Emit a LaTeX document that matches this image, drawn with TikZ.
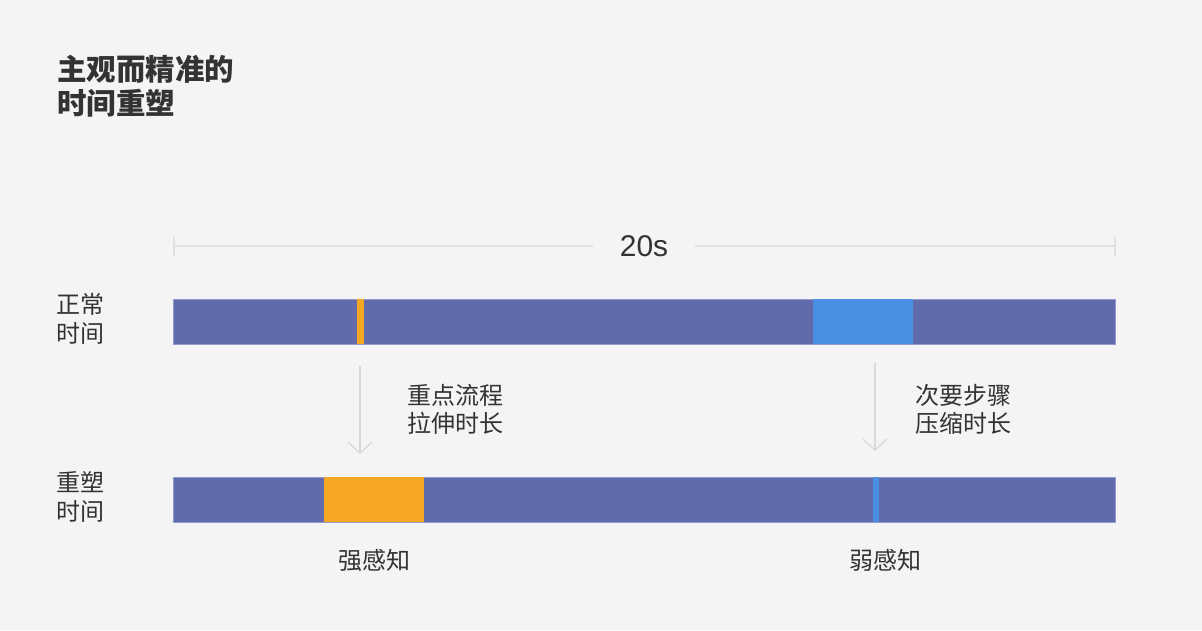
\documentclass[tikz,border=0pt]{standalone}
\usepackage{fontspec}
\setmainfont{Noto Sans CJK SC}
\newfontfamily\latinfont{Liberation Sans}
\usepackage{tikz}
\usetikzlibrary{positioning}
\usetikzlibrary{arrows.meta}
\usepackage{xcolor}

\definecolor{bgGray}{HTML}{F4F4F4}
\definecolor{barPurple}{HTML}{616BAC}
\definecolor{barEdge}{HTML}{9399CC}
\definecolor{keyOrange}{HTML}{F5A623}
\definecolor{keyBlue}{HTML}{4A90E2}
\definecolor{lineGray}{HTML}{E0E0E0}
\definecolor{arrowGray}{HTML}{D9D9D9}
\definecolor{textDark}{HTML}{333333}

\begin{document}
\begin{tikzpicture}[x=1pt, y=-1pt, >={Straight Barb[length=11pt,width=24pt]},
  bar/.style={draw=barEdge, line width=0.8pt, fill=barPurple, inner sep=0pt,
    minimum width=942pt, minimum height=45pt, anchor=north west},
  seg/.style={inner sep=0pt, minimum height=45pt, anchor=north west},
  label/.style={inner sep=0pt, anchor=west, align=left, text=textDark,
    font=\fontsize{24}{28}\selectfont},
  dimline/.style={draw=lineGray, line width=2pt},
  flow/.style={draw=arrowGray, line width=1.3pt, ->}]

  % Background and page size
  \fill[bgGray] (0,0) rectangle (1202,630);
  \useasboundingbox (0,0) rectangle (1202,630);

  % Title
  \node[label, font=\fontsize{29.5}{34}\selectfont\bfseries] (title) at (57,86) {主观而精准的\\时间重塑};

  % Duration line with end ticks
  \coordinate (dimL) at (174,246);
  \coordinate (dimR) at (1115,246);
  \node[text=textDark, font=\latinfont\fontsize{30}{34}\selectfont, inner xsep=27pt, inner ysep=0pt] (dur) at (644,246) {20s};
  \draw[dimline] (dimL) -- (dur.west);
  \draw[dimline] (dur.east) -- (dimR);
  \draw[dimline] ([yshift=-10pt]dimL) -- ([yshift=9pt]dimL);
  \draw[dimline] ([yshift=-10pt]dimR) -- ([yshift=9pt]dimR);

  % Normal time bar
  \node[bar] (normal) at (173,299) {};
  \node[seg, fill=keyOrange, minimum width=7pt] (keyA) at ([xshift=184pt]normal.north west) {};
  \node[seg, fill=keyBlue, minimum width=100pt] (minorA) at ([xshift=640pt]normal.north west) {};

  % Reshaped time bar
  \node[bar] (reshaped) at (173,477) {};
  \node[seg, fill=keyOrange, minimum width=100pt] (keyB) at ([xshift=151pt]reshaped.north west) {};
  \node[seg, fill=keyBlue, minimum width=6pt] (minorB) at ([xshift=700pt]reshaped.north west) {};

  % Row labels
  \node[label, font=\fontsize{24}{29}\selectfont] (normalLbl) at (56,319) {正常\\时间};
  \node[label, font=\fontsize{24}{29}\selectfont] (reshapedLbl) at (56,497) {重塑\\时间};

  % Stretch and compress arrows
  \coordinate (keyTop) at (360,366);
  \coordinate (keyTip) at (360,454);
  \coordinate (minorTop) at (875,363);
  \coordinate (minorTip) at (875,451);
  \draw[flow] (keyTop) -- (keyTip);
  \draw[flow] (minorTop) -- (minorTip);
  \node[label] (keyNote) at (407,409) {重点流程\\拉伸时长};
  \node[label] (minorNote) at (915,409) {次要步骤\\压缩时长};

  % Perception labels
  \node[text=textDark, font=\fontsize{24}{28}\selectfont, inner sep=0pt] (strongLbl) at (374,560) {强感知};
  \node[text=textDark, font=\fontsize{24}{28}\selectfont, inner sep=0pt] (weakLbl) at (885,560) {弱感知};
\end{tikzpicture}
\end{document}
